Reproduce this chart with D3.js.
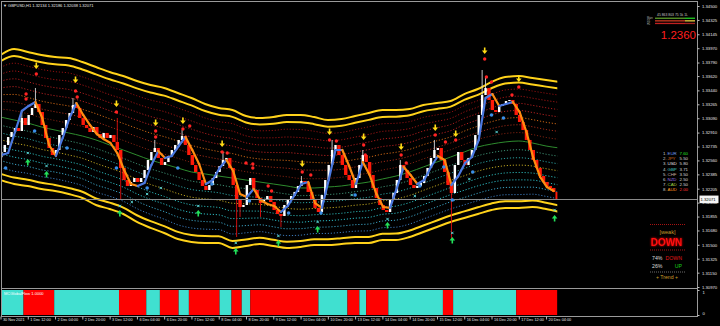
<!DOCTYPE html>
<html>
<head>
<meta charset="utf-8">
<script src="https://cdnjs.cloudflare.com/ajax/libs/d3/7.8.5/d3.min.js"></script>
<style>
body{margin:0;background:#000;overflow:hidden}
svg{display:block}
text{font-family:"Liberation Sans",Arial,sans-serif}
</style>
</head>
<body>
<svg id="chart"></svg>
<script>
// ---- data (GBPUSD H1) ----
const xTickBars = [0,16,32,48,64,80,96,112,128,144,160,176,192,208,224,240,256,272,288,304,320]
const xTickLabels = ['30 Nov 2021','1 Dec 12:00','2 Dec 04:00','2 Dec 20:00','3 Dec 12:00','6 Dec 04:00','6 Dec 20:00','7 Dec 12:00','8 Dec 04:00','8 Dec 20:00','9 Dec 12:00','10 Dec 04:00','10 Dec 20:00','13 Dec 12:00','14 Dec 04:00','14 Dec 20:00','15 Dec 12:00','16 Dec 04:00','16 Dec 20:00','17 Dec 12:00','20 Dec 04:00']
const yTicks = [1.34500,1.34325,1.34145,1.33970,1.33790,1.33620,1.33440,1.33265,1.33090,1.32910,1.32735,1.32560,1.32385,1.32205,1.32030,1.31855,1.31680,1.31500,1.31325,1.31150,1.30970]
const lastPrice = 1.32071

// closes, one per 2 bars
const firstOpen = 1.32600
const closes = [1.32666,1.32754,1.32854,1.32917,1.32967,1.32930,1.33093,1.33005,1.33131,1.33219,
1.33269,1.33168,1.33005,1.32842,1.32716,1.32628,1.32691,1.32879,1.32967,1.33068,
1.33156,1.33256,1.33219,1.33093,1.33005,1.32967,1.32917,1.32980,1.32892,1.32842,
1.32905,1.32842,1.32879,1.32792,1.32691,1.32465,1.32314,1.32239,1.32289,1.32339,
1.32289,1.32339,1.32440,1.32565,1.32666,1.32716,1.32591,1.32503,1.32540,1.32616,
1.32691,1.32754,1.32817,1.32867,1.32754,1.32628,1.32503,1.32415,1.32314,1.32239,
1.32189,1.32251,1.32339,1.32415,1.32490,1.32565,1.32591,1.32465,1.32251,1.32063,
1.31975,1.32000,1.32251,1.32339,1.32189,1.32088,1.32025,1.32063,1.32113,1.32038,
1.31937,1.31887,1.31862,1.32000,1.32063,1.32113,1.32164,1.32239,1.32302,1.32289,
1.32164,1.32063,1.31963,1.31912,1.32126,1.32314,1.32503,1.32691,1.32754,1.32628,
1.32503,1.32377,1.32314,1.32214,1.32339,1.32503,1.32628,1.32540,1.32377,1.32214,
1.32088,1.32000,1.31937,1.31912,1.32063,1.32151,1.32314,1.32503,1.32440,1.32339,
1.32251,1.32214,1.32239,1.32277,1.32364,1.32465,1.32591,1.32691,1.32716,1.32565,
1.32415,1.32251,1.32151,1.32503,1.32666,1.32565,1.32503,1.32591,1.32691,1.32879,
1.33131,1.33382,1.33470,1.33319,1.33193,1.33168,1.33244,1.33269,1.33306,1.33319,
1.33269,1.33131,1.33043,1.32942,1.32817,1.32691,1.32565,1.32465,1.32364,1.32289,
1.32239,1.32214,1.32164,1.32071]

// long wicks: candle index, high, low
const spikeIdx = [6,10,21,34,35,45,53,65,69,70,76,82,88,97,106,117,127,132,141,142]
const spikeHigh = [1.33168,1.33470,1.33344,1.33093,null,1.32817,1.32942,1.32666,null,null,null,null,1.32364,1.32817,1.32691,1.32565,1.32817,null,1.33696,1.33595]
const spikeLow = [null,null,null,null,1.32063,null,null,null,1.31598,1.31850,1.31850,1.31724,null,null,null,null,null,1.31561,null,null]

// smoothed trend line, one per 4 bars
const trend = [1.32628,1.32653,1.32917,1.33181,1.33244,1.33294,1.33093,1.32754,1.32616,1.32842,
1.33093,1.33281,1.33131,1.33005,1.32892,1.32829,1.32779,1.32653,1.32440,1.32264,
1.32239,1.32277,1.32503,1.32678,1.32591,1.32616,1.32741,1.32854,1.32691,1.32515,
1.32264,1.32314,1.32465,1.32565,1.32427,1.32138,1.32101,1.32201,1.32063,1.32013,
1.31988,1.31912,1.31988,1.32126,1.32264,1.32289,1.32025,1.31963,1.32314,1.32691,
1.32691,1.32490,1.32264,1.32540,1.32377,1.32138,1.31975,1.31963,1.32214,1.32478,
1.32377,1.32264,1.32314,1.32478,1.32616,1.32565,1.32251,1.32364,1.32528,1.32603,
1.32817,1.33344,1.33394,1.33244,1.33269,1.33294,1.33168,1.32917,1.32591,1.32352,
1.32226,1.32176]

// channel, one per 8 bars
const bandTop = [1.33884,1.33960,1.33922,1.33884,1.33859,1.33847,1.33796,1.33733,1.33671,1.33620,
1.33558,1.33507,1.33470,1.33407,1.33344,1.33269,1.33219,1.33193,1.33118,1.33093,
1.33105,1.33131,1.33131,1.33105,1.33068,1.33080,1.33118,1.33156,1.33193,1.33193,
1.33206,1.33256,1.33281,1.33306,1.33394,1.33457,1.33545,1.33608,1.33620,1.33595,
1.33570,1.33545]
const bandMid = [1.33105,1.33068,1.33030,1.32980,1.32942,1.32905,1.32867,1.32817,1.32754,1.32691,
1.32628,1.32565,1.32515,1.32465,1.32415,1.32390,1.32364,1.32339,1.32314,1.32289,
1.32264,1.32239,1.32214,1.32214,1.32226,1.32239,1.32264,1.32289,1.32327,1.32364,
1.32415,1.32478,1.32540,1.32603,1.32666,1.32729,1.32766,1.32792,1.32804,1.32779,
1.32741,1.32716]
const bandBot = [1.32314,1.32264,1.32239,1.32201,1.32176,1.32138,1.32088,1.32000,1.31950,1.31887,
1.31787,1.31712,1.31649,1.31573,1.31536,1.31523,1.31523,1.31460,1.31485,1.31510,
1.31485,1.31460,1.31473,1.31498,1.31498,1.31510,1.31523,1.31523,1.31561,1.31561,
1.31598,1.31661,1.31724,1.31787,1.31837,1.31887,1.31937,1.31963,1.31963,1.31975,
1.31950,1.31912]
const innerFrac = 0.9
const dotFrac = [0.8,0.69,0.58,0.47,0.36,0.25,0.13]

// signals: bar, price
const downArrowBar = [21,44,68,91,107,130,177,193,213,235,255,267,284,304]
const downArrowPrice = [1.33746,1.33570,1.33269,1.33030,1.33055,1.32766,1.32515,1.32917,1.32854,1.32729,1.32967,1.32892,1.33934,1.33583]
const upArrowBar = [16,27,70,116,138,163,186,227,265,325]
const upArrowPrice = [1.32540,1.32390,1.31900,1.31900,1.31423,1.31523,1.31699,1.31749,1.31561,1.31837]
const crossBar = [16,27,70,77,86,94,116,138,163,186,206,227,243,265,275,291,325]
const crossPrice = [1.32653,1.32490,1.31988,1.32038,1.32138,1.32214,1.31988,1.31523,1.31611,1.31787,1.32126,1.31824,1.32113,1.31649,1.32327,1.32917,1.31937]
const redDotBar = [15,15,21,44,45,68,91,91,107,111,130,133,144,148,148,157,159,177,182,193,197,213,214,235,238,255,261,267,284,285,288,304,300]
const redDotPrice = [1.33394,1.33332,1.33646,1.33432,1.33357,1.33168,1.32930,1.32854,1.32955,1.32992,1.32666,1.32653,1.32528,1.32515,1.32465,1.32239,1.32176,1.32415,1.32377,1.32817,1.32804,1.32754,1.32628,1.32628,1.32528,1.32879,1.32792,1.32817,1.33834,1.33608,1.33545,1.33482,1.33382]
const blueDotBar = [3,20,39,68,86,104,124,146,169,188,208,246,260,265,277,288,295]
const blueDotPrice = [1.32465,1.32930,1.32716,1.32465,1.32214,1.32465,1.32264,1.32050,1.31900,1.31900,1.32126,1.32239,1.32478,1.32063,1.32415,1.33131,1.33093]

// lower window histogram runs
const histStart = [0,14,32,70,86,94,105,111,129,136,142,147,187,204,211,215,228,260,266,303]
const histEnd = [14,32,70,86,94,105,111,129,136,142,147,187,204,211,215,228,260,266,303,327]
const histState = ['up','down','up','down','up','down','up','down','up','down','up','down','up','down','up','down','up','down','up','down']

// panel text
const currRank = ['1.','2.','3.','4.','5.','6.','7.','8.']
const currName = ['EUR','JPY','USD','GBP','CHF','NZD','CAD','AUD']
const currValue = ['7.60','5.50','5.80','3.71','3.50','2.50','2.50','2.00']
const currNameColor = ['#6f9cf0','#d2691e','#e8e8e8','#40c8c0','#c8a8a8','#9a6fe0','#a0d040','#ff9a20']
const currValColor = ['#22e022','#d8d8d8','#d8d8d8','#d8d8d8','#d8d8d8','#d8d8d8','#d8d8d8','#ff3030']

// ---- drawing ----
const W = 720, H = 326
const svg = d3.select('#chart').attr('width', W).attr('height', H).style('background', '#000')

const x = d3.scaleLinear().domain([0, 326]).range([0.5, 556.3])
const y = d3.scaleLinear().domain([1.30970, 1.34500]).range([287, 6])
const ySub = d3.scaleLinear().domain([0, 1]).range([315, 290])

const defs = svg.append('defs')
defs.append('clipPath').attr('id', 'clipData').append('rect')
  .attr('x', 2).attr('y', 2).attr('width', x(326) - 1).attr('height', 286)
defs.append('clipPath').attr('id', 'clipMain').append('rect')
  .attr('x', 2).attr('y', 2).attr('width', 695).attr('height', 286)
defs.append('clipPath').attr('id', 'clipSub').append('rect')
  .attr('x', 2).attr('y', 289).attr('width', 695).attr('height', 27)

const plot = svg.append('g').attr('clip-path', 'url(#clipData)')

// channel levels
const bandBars = bandMid.map((d, i) => i * 8)
const levelLine = vals => d3.line()
  .x((d, i) => x(bandBars[i]))
  .y(d => y(d))
  .curve(d3.curveMonotoneX)(vals)
const upLevel = f => bandMid.map((m, i) => m + f * (bandTop[i] - m))
const dnLevel = f => bandMid.map((m, i) => m - f * (m - bandBot[i]))

const upDotColor = ['#8b1010','#9a1414','#a81c1c','#b02020','#c86414','#9c2a18','#7a2010']
const dnDotColor = ['#3a78b8','#3aa0c0','#2cb8c0','#2ab0b0','#b8a020','#2a9c9c','#3c8c70']
dotFrac.forEach((f, i) => {
  plot.append('path').attr('d', levelLine(upLevel(f)))
    .attr('fill', 'none').attr('stroke', upDotColor[i]).attr('stroke-width', 1)
    .attr('stroke-dasharray', '1.2,1.8')
  plot.append('path').attr('d', levelLine(dnLevel(f)))
    .attr('fill', 'none').attr('stroke', dnDotColor[i]).attr('stroke-width', 1)
    .attr('stroke-dasharray', '1.2,1.8')
})

// mid line
plot.append('path').attr('d', levelLine(bandMid))
  .attr('fill', 'none').attr('stroke', '#2e8b2e').attr('stroke-width', 1)

// yellow channel, double line each side
;[bandTop, upLevel(innerFrac), dnLevel(innerFrac), bandBot].forEach(v => {
  plot.append('path').attr('d', levelLine(v))
    .attr('fill', 'none').attr('stroke', '#ffd21a').attr('stroke-width', 2)
})

// current price line
svg.append('line').attr('x1', 2).attr('x2', 697)
  .attr('y1', Math.round(y(lastPrice)) + 0.5).attr('y2', Math.round(y(lastPrice)) + 0.5)
  .attr('stroke', '#8a8a8a').attr('stroke-width', 1)

// candles
const candles = closes.map((c, k) => {
  const o = k ? closes[k - 1] : firstOpen
  const s = spikeIdx.indexOf(k)
  let hi = Math.max(o, c), lo = Math.min(o, c)
  if (s >= 0 && spikeHigh[s] != null) hi = spikeHigh[s]
  if (s >= 0 && spikeLow[s] != null) lo = spikeLow[s]
  return { k, o, c, hi, lo, up: c >= o }
})
const cg = plot.append('g')
cg.selectAll('.wick').data(candles).join('line')
  .attr('x1', d => x(2 * d.k + 0.5)).attr('x2', d => x(2 * d.k + 0.5))
  .attr('y1', d => y(d.hi)).attr('y2', d => y(d.lo))
  .attr('stroke', d => d.up ? '#d8d8d8' : '#e01010').attr('stroke-width', 0.9)
cg.selectAll('.body').data(candles).join('rect')
  .attr('x', d => x(2 * d.k + 0.5) - (d.up ? 1.2 : 1.7))
  .attr('width', d => d.up ? 2.4 : 3.4)
  .attr('y', d => y(Math.max(d.o, d.c)))
  .attr('height', d => Math.max(1, Math.abs(y(d.o) - y(d.c))))
  .attr('fill', d => d.up ? '#ffffff' : '#ff1a0a')

// trend line, blue rising / orange falling
const tg = plot.append('g')
for (let j = 0; j < trend.length - 1; j++) {
  tg.append('line')
    .attr('x1', x(4 * j + 0.5)).attr('y1', y(trend[j]))
    .attr('x2', x(4 * j + 4.5)).attr('y2', y(trend[j + 1]))
    .attr('stroke', trend[j + 1] >= trend[j] ? '#4a78e0' : '#ff8c10')
    .attr('stroke-width', 2.2).attr('stroke-linecap', 'round')
}

// signal markers
const mg = svg.append('g').attr('clip-path', 'url(#clipMain)')
mg.selectAll('.rdot').data(redDotBar).join('circle')
  .attr('cx', d => x(d)).attr('cy', (d, i) => y(redDotPrice[i])).attr('r', 1.7)
  .attr('fill', '#ff2424')
mg.selectAll('.bdot').data(blueDotBar).join('circle')
  .attr('cx', d => x(d)).attr('cy', (d, i) => y(blueDotPrice[i])).attr('r', 1.8)
  .attr('fill', '#3a8ee8')
mg.selectAll('.cross').data(crossBar).join('path')
  .attr('d', (d, i) => {
    const cx = x(d), cy = y(crossPrice[i])
    return `M${cx - 1.2},${cy - 1.2}L${cx + 1.2},${cy + 1.2}M${cx - 1.2},${cy + 1.2}L${cx + 1.2},${cy - 1.2}`
  })
  .attr('stroke', '#5ad8d8').attr('stroke-width', 1)
mg.selectAll('.darr').data(downArrowBar).join('path')
  .attr('d', (d, i) => {
    const cx = x(d), cy = y(downArrowPrice[i])
    return `M${cx - 0.8},${cy - 3.5}h1.6v3h2l-2.8,3.5l-2.8,-3.5h2z`
  })
  .attr('fill', '#ffdc14')
mg.selectAll('.uarr').data(upArrowBar).join('path')
  .attr('d', (d, i) => {
    const cx = x(d), cy = y(upArrowPrice[i])
    return `M${cx - 0.8},${cy + 3.5}h1.6v-3h2l-2.8,-3.5l-2.8,3.5h2z`
  })
  .attr('fill', '#22e05a')

// lower window histogram
const hg = svg.append('g').attr('clip-path', 'url(#clipSub)')
hg.selectAll('rect').data(histStart).join('rect')
  .attr('x', d => x(d) - 0.85)
  .attr('width', (d, i) => x(histEnd[i]) - x(d))
  .attr('y', ySub(1)).attr('height', ySub(0) - ySub(1))
  .attr('fill', (d, i) => histState[i] === 'up' ? '#40e0d0' : '#ff0000')

// frame
const frame = svg.append('g').attr('fill', 'none').attr('stroke', '#9a9a9a').attr('stroke-width', 1)
frame.append('rect').attr('x', 1.5).attr('y', 1.5).attr('width', 696).attr('height', 315)
frame.append('line').attr('x1', 1.5).attr('x2', 697.5).attr('y1', 288.5).attr('y2', 288.5)

// price axis
const yAxis = svg.append('g').attr('transform', 'translate(697.5,0)')
  .call(d3.axisRight(y).tickValues(yTicks).tickFormat(d3.format('.5f')).tickSize(2).tickPadding(2.5))
yAxis.select('.domain').remove()
yAxis.selectAll('line').attr('stroke', '#bdbdbd')
yAxis.selectAll('text').attr('fill', '#e6e6e6').style('font-size', '4.2px')

// last price label
svg.append('rect').attr('x', 699.5).attr('y', y(lastPrice) - 3.8).attr('width', 19).attr('height', 7.6).attr('fill', '#f4f4f4')
svg.append('text').attr('x', 700.5).attr('y', y(lastPrice)).attr('dy', '0.35em')
  .attr('fill', '#000').style('font-size', '4.2px').text(d3.format('.5f')(lastPrice))

// sub window axis
const subAxis = svg.append('g').attr('transform', 'translate(697.5,0)')
  .call(d3.axisRight(ySub).tickValues([0, 1]).tickFormat(d3.format('d')).tickSize(2).tickPadding(3))
subAxis.select('.domain').remove()
subAxis.selectAll('line').attr('stroke', '#bdbdbd')
subAxis.selectAll('text').attr('fill', '#e6e6e6').style('font-size', '4.2px')
  .attr('dy', d => d ? '0.9em' : '-0.2em')

// time axis
const xAxis = svg.append('g').attr('transform', 'translate(0,316.5)')
  .call(d3.axisBottom(x).tickValues(xTickBars).tickFormat((d, i) => xTickLabels[i]).tickSize(3).tickPadding(0))
xAxis.select('.domain').remove()
xAxis.selectAll('line').attr('stroke', '#bdbdbd')
xAxis.selectAll('text').attr('fill', '#e6e6e6').style('font-size', '3.8px')
  .attr('text-anchor', 'start').attr('x', 2).attr('y', 1.8).attr('dy', '0.71em')

// header texts
svg.append('text').attr('x', 3).attr('y', 7.2).attr('fill', '#e8e8e8').style('font-size', '4px')
  .text('\u25BC GBPUSD,H1  1.32134 1.32186 1.32038 1.32071')
svg.append('text').attr('x', 4).attr('y', 295).attr('fill', '#ffffff').style('font-size', '4px')
  .text('MCGlobalFlow 1.0000')

// right info panel
const panel = svg.append('g')
panel.append('text').attr('x', 657).attr('y', 15.5).attr('fill', '#c8c8c8').style('font-size', '3.4px')
  .text('45  863  803  75    5k   1L')
const barRows = [['Main', '#5a9a2a', '#22cc22'], ['D1', '#c83a20', '#e8d040'], ['H1', '#c02020', '#a02020']]
barRows.forEach((r, i) => {
  panel.append('text').attr('x', 647).attr('y', 19.3 + i * 2.6).attr('fill', '#bbbbbb').style('font-size', '2.6px').text(r[0])
  panel.append('rect').attr('x', 655).attr('y', 17.6 + i * 2.6).attr('width', 30).attr('height', 1.3).attr('fill', r[1])
  panel.append('rect').attr('x', 685).attr('y', 17.6 + i * 2.6).attr('width', 10).attr('height', 1.3).attr('fill', r[2])
})
panel.append('text').attr('x', 696).attr('y', 38.5).attr('text-anchor', 'end')
  .attr('fill', '#ff1e1e').style('font-size', '11.5px').text('1.2360')

currName.forEach((c, i) => {
  const yy = 155 + i * 5.2
  panel.append('text').attr('x', 663).attr('y', yy).attr('fill', '#cfcfcf').style('font-size', '4.4px').text(currRank[i])
  panel.append('text').attr('x', 667.5).attr('y', yy).attr('fill', currNameColor[i]).style('font-size', '4.4px').text(c)
  panel.append('text').attr('x', 679.5).attr('y', yy).attr('fill', currValColor[i]).style('font-size', '4.4px').text(currValue[i])
})

const dash = (yy, col) => panel.append('line').attr('x1', 650).attr('x2', 685).attr('y1', yy).attr('y2', yy)
  .attr('stroke', col).attr('stroke-width', 0.8).attr('stroke-dasharray', '1,1')
dash(224.5, '#d01818')
panel.append('text').attr('x', 667.5).attr('y', 234).attr('text-anchor', 'middle')
  .attr('fill', '#c89a28').style('font-size', '5.6px').text('[weak]')
panel.append('text').attr('x', 666.5).attr('y', 246).attr('text-anchor', 'middle')
  .attr('fill', '#ff1010').style('font-size', '10px').style('font-weight', 'bold')
  .style('filter', 'drop-shadow(0 0 1px #ff0000)').text('DOWN')
dash(250, '#d01818')
panel.append('text').attr('x', 652).attr('y', 260).attr('fill', '#dcdcdc').style('font-size', '5.2px').text('74%')
panel.append('text').attr('x', 682).attr('y', 260).attr('text-anchor', 'end').attr('fill', '#e01818').style('font-size', '5.2px').text('DOWN')
panel.append('text').attr('x', 652).attr('y', 268).attr('fill', '#dcdcdc').style('font-size', '5.2px').text('26%')
panel.append('text').attr('x', 682).attr('y', 268).attr('text-anchor', 'end').attr('fill', '#18d018').style('font-size', '5.2px').text('UP')
dash(272, '#888888')
panel.append('text').attr('x', 667).attr('y', 279).attr('text-anchor', 'middle')
  .attr('fill', '#c89a28').style('font-size', '5.2px').text('+   Trend   +')
</script>
</body>
</html>
